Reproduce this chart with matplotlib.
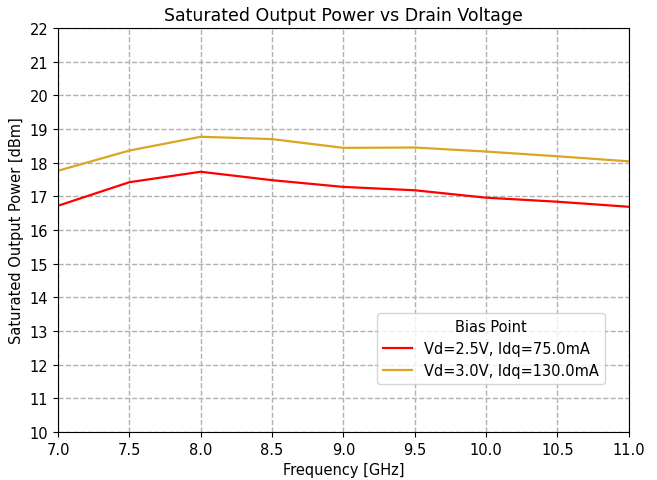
import matplotlib
matplotlib.use("Agg")
import matplotlib.pyplot as plt

freq = [7.0, 7.5, 8.0, 8.5, 9.0, 9.5, 10.0, 10.5, 11.0]
psat_25 = [16.72, 17.42, 17.73, 17.48, 17.28, 17.18, 16.96, 16.84, 16.69]
psat_30 = [17.76, 18.36, 18.77, 18.70, 18.44, 18.45, 18.33, 18.19, 18.04]
labels = ["Vd=2.5V, Idq=75.0mA", "Vd=3.0V, Idq=130.0mA"]

plt.rcParams["font.size"] = 11
fig, ax = plt.subplots(figsize=(6.57, 4.81), dpi=100)
fig.subplots_adjust(left=0.0883, right=0.957, top=0.9397, bottom=0.0998)
ax.plot(freq, psat_25, color="red", lw=1.6, label=labels[0])
ax.plot(freq, psat_30, color="goldenrod", lw=1.6, label=labels[1])
ax.set_xlim(7, 11)
ax.set_ylim(10, 22)
ax.set_xticks([7.0, 7.5, 8.0, 8.5, 9.0, 9.5, 10.0, 10.5, 11.0])
ax.set_yticks(range(10, 23))
ax.tick_params(labelsize=10.5)
ax.grid(True, linestyle="--", color="#b0b0b0", lw=1.0)
ax.set_xlabel("Frequency [GHz]", fontsize=10.5)
ax.set_ylabel("Saturated Output Power [dBm]", fontsize=10.5)
ax.set_title("Saturated Output Power vs Drain Voltage", fontsize=12.5)
ax.legend(title="Bias Point", loc="lower right", bbox_to_anchor=(0.958, 0.119),
          borderaxespad=0, title_fontsize=10.5, fontsize=10.5)
fig.savefig("out.png", dpi=100)
